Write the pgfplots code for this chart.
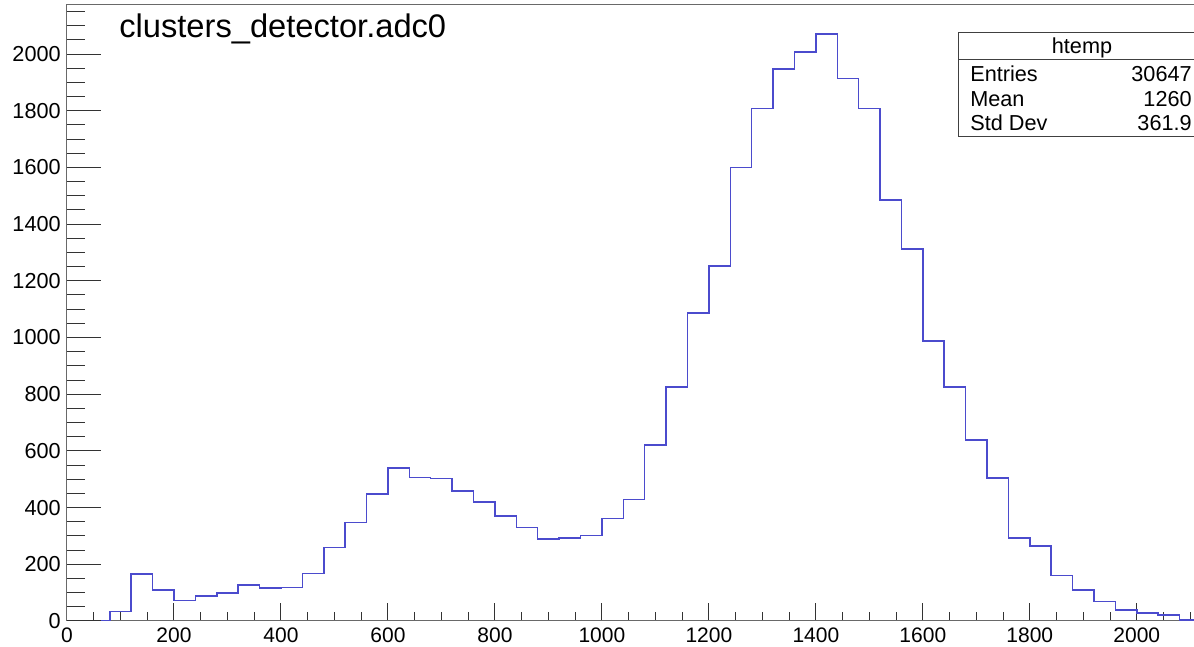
\documentclass[border=0pt]{standalone}
\usepackage{fontspec}
\setmainfont{Liberation Sans}
\usepackage{pgfplots}
\pgfplotsset{compat=1.18}
\usepackage{pgfplotstable}
\definecolor{histblue}{RGB}{75,75,205}
\definecolor{framegray}{RGB}{105,105,105}

\pgfplotstableread{
x y
0 0
80 34
120 166
160 109
200 72
240 89
280 98
320 127
360 116
400 119
440 168
480 260
520 347
560 448
600 540
640 506
680 503
720 459
760 419
800 370
840 329
880 290
920 293
960 302
1000 362
1040 428
1080 621
1120 825
1160 1086
1200 1252
1240 1599
1280 1807
1320 1947
1360 2007
1400 2070
1440 1913
1480 1808
1520 1485
1560 1313
1600 988
1640 825
1680 638
1720 504
1760 293
1800 265
1840 161
1880 109
1920 68
1960 39
2000 29
2040 21
2080 4
2120 4
}\hist

\begin{document}
\begin{tikzpicture}
\pgfplotsset{rootaxis/.style={
  scale only axis, width=680.4pt, height=369.6pt,
  xmin=0, xmax=2120, ymin=0, ymax=2173,
  tick align=inside,
  every tick/.style={black!80, line width=0.6pt},
  /pgf/number format/assume math mode=true,
  /pgf/number format/1000 sep={},
}}
\begin{axis}[rootaxis,
  axis line style={framegray, line width=0.6pt},
  xtick={0,200,...,2000}, minor xtick={0,50,...,2100},
  ytick=\empty, xtick pos=left,
  major tick length=10.6pt, minor tick length=5.2pt,
  xticklabel style={font=\fontsize{12.6}{14}\selectfont, anchor=north, inner sep=0pt, yshift=-4.2pt},
]
\addplot[const plot, histblue, line width=0.9pt] table[x=x,y=y]{\hist};
\end{axis}
\begin{axis}[rootaxis,
  axis line style={draw=none},
  xtick=\empty, ytick={0,200,...,2000}, minor ytick={0,50,...,2150},
  ytick pos=left,
  major tick length=20.4pt, minor tick length=10.6pt,
  yticklabel style={font=\fontsize{13}{15}\selectfont, anchor=east, inner sep=0pt, xshift=-3.6pt},
]
\addplot[draw=none] coordinates {(0,0)};
\end{axis}
\begin{scope}[shift={(-40.2pt,372.6pt)}, x=0.6pt, y=-0.6pt]
  \node[anchor=base west, inner sep=0pt, font=\fontsize{19.6}{22}\selectfont] at (119,38) {clusters\_detector.adc0};
  \filldraw[fill=white, draw=black!75, line width=0.6pt] (958,33) rectangle (1206,137);
  \draw[black!75, line width=0.6pt] (958,60) -- (1206,60);
  \begin{scope}[every node/.style={inner sep=0pt, font=\fontsize{13}{15}\selectfont}]
    \node[anchor=base] at (1082,53.3) {htemp};
    \node[anchor=base west] at (970,81.7) {Entries};
    \node[anchor=base west] at (970,106.7) {Mean};
    \node[anchor=base west] at (970,131) {Std Dev};
    \node[anchor=base east] at (1192,81.7) {30647};
    \node[anchor=base east] at (1192,106.7) {1260};
    \node[anchor=base east] at (1192,131) {361.9};
  \end{scope}
  \pgfresetboundingbox
  \path[use as bounding box] (0,0) rectangle (1194,647);
\end{scope}
\end{tikzpicture}
\end{document}
